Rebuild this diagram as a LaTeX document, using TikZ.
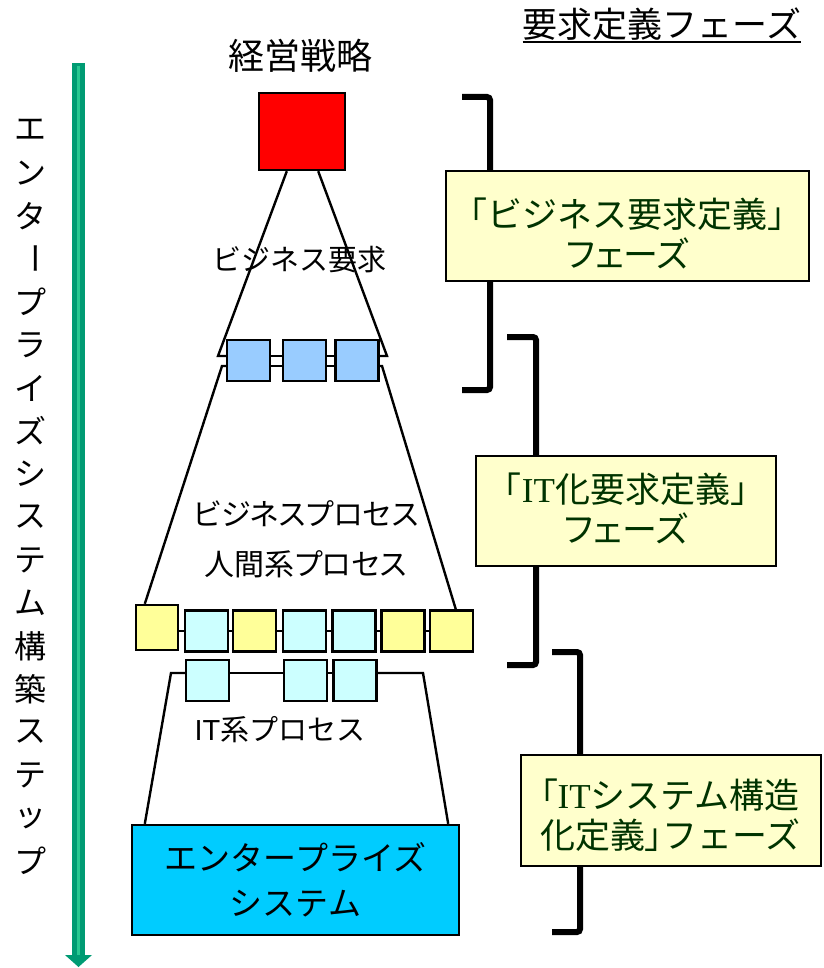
\documentclass[tikz,border=0pt]{standalone}
\usepackage{fontspec}
\usepackage{graphicx}
\setmainfont{Noto Sans CJK JP}
\newfontfamily\jpp[RawFeature=+palt]{Noto Sans CJK JP}
\newfontfamily\itserif{Liberation Serif}
\newfontfamily\itsans{Liberation Sans}
\usetikzlibrary{calc}
\definecolor{arrgreen}{RGB}{0,155,115}
\definecolor{arrlight}{RGB}{40,200,145}
\definecolor{phasefill}{HTML}{FFFFCC}
\definecolor{phasetext}{HTML}{003300}
\definecolor{bluebox}{HTML}{99CCFF}
\definecolor{yelbox}{HTML}{FFFF99}
\definecolor{cyanbox}{HTML}{CCFFFF}
\definecolor{entbox}{HTML}{00CCFF}
\begin{document}
\begin{tikzpicture}[x=1pt,y=-1pt,
  sq/.style={draw=black, line width=2.4pt, inner sep=0pt, minimum width=43pt, minimum height=41pt},
  conn/.style={line width=2.4pt, line join=miter},
  phasebox/.style={draw=black, line width=2pt, fill=phasefill, inner sep=0pt, minimum height=110pt},
  phasetxt/.style={text=phasetext, inner sep=0pt, align=center, font=\fontsize{35}{40}\selectfont},
  bracketline/.style={line width=6pt, rounded corners=3pt},
  lbl/.style={inner sep=0pt, text=black}]
\useasboundingbox (0,0) rectangle (823,968);

% ---------- green step arrow ----------
\coordinate (atop) at (78.5,63);
\coordinate (abot) at (78.5,955);
\coordinate (atip) at (78.5,967);
\draw[arrgreen, line width=13pt] (atop) -- (abot);
\draw[arrlight, line width=3.5pt] ($(atop)+(0,3)$) -- (abot);
\fill[arrgreen] ($(abot)+(-13.5,0)$) -- ($(abot)+(13.5,0)$) -- (atip) -- cycle;

% ---------- vertical text ----------
\foreach \c [count=\i from 0] in {エ,ン,タ,{\rotatebox{-90}{ー}},プ,ラ,イ,ズ,シ,ス,テ,ム,構,築,ス,テ,ッ,プ}
  \node[lbl, font=\fontsize{32}{32}\selectfont] (v\i) at (30,130+43*\i) {\c};

% ---------- title ----------
\node[lbl, font=\fontsize{35}{35}\selectfont] (title) at (662,24) {要求定義フェーズ};
\draw[line width=2pt] ($(title.south west)+(0,1)$) -- ($(title.south east)+(0,1)$);

% ---------- top ----------
\node[lbl, font=\fontsize{36}{36}\selectfont] (keiei) at (300,56) {経営戦略};
\node[sq, fill=red, minimum width=86pt, minimum height=77pt] (red) at (302,131.5) {};
\node[sq, fill=bluebox] (u1) at (248.5,360.5) {};
\node[sq, fill=bluebox] (u2) at (304.5,360.5) {};
\node[sq, fill=bluebox] (u3) at (357,360.5) {};
\node[lbl, font=\fontsize{29}{29}\selectfont] (bizreq) at (299,260) {ビジネス要求};

\coordinate (t1tl) at ($(red.south west)+(29,0)$);
\coordinate (t1tr) at ($(red.south east)+(-28,0)$);
\coordinate (t1bl) at (218,356);
\coordinate (t1br) at (387,356);
\draw[conn] (t1tl) -- (t1bl) -- (t1bl -| u1.west);
\draw[conn] (t1tr) -- (t1br) -- (t1br -| u3.east);
\draw[conn] (t1bl -| u1.east) -- (t1bl -| u2.west);
\draw[conn] (t1bl -| u2.east) -- (t1bl -| u3.west);

% ---------- business process row ----------
\node[sq, fill=yelbox, minimum width=42pt, minimum height=45pt] (b1) at (157,627.5) {};
\node[sq, fill=cyanbox] (b2) at (206.5,631) {};
\node[sq, fill=yelbox]  (b3) at (254.5,631) {};
\node[sq, fill=cyanbox] (b4) at (304.5,631) {};
\node[sq, fill=cyanbox] (b5) at (354,631) {};
\node[sq, fill=yelbox]  (b6) at (403,631) {};
\node[sq, fill=yelbox]  (b7) at (451.5,631) {};
\draw[conn] (b1.east |- b2.west) -- (b2.west);
\draw[conn] (b2.east) -- (b3.west);
\draw[conn] (b3.east) -- (b4.west);
\draw[conn] (b4.east) -- (b5.west);
\draw[conn] (b5.east) -- (b6.west);
\draw[conn] (b6.east) -- (b7.west);

\coordinate (t2tl) at (222,366);
\coordinate (t2tr) at (382,366);
\draw[conn] (t2tl -| u1.west) -- (t2tl) -- ($(b1.north west)+(10,0)$);
\draw[conn] (t2tr -| u3.east) -- (t2tr) -- ($(b7.north west)+(27,0)$);
\draw[conn] (t2tl -| u1.east) -- (t2tl -| u2.west);
\draw[conn] (t2tl -| u2.east) -- (t2tl -| u3.west);

\node[lbl, font=\jpp\fontsize{30}{30}\selectfont] (bizproc) at (306,514) {ビジネスプロセス};
\node[lbl, font=\jpp\fontsize{30}{30}\selectfont] (humproc) at (306,564) {人間系プロセス};

% ---------- IT process row ----------
\node[sq, fill=cyanbox] (c1) at (207.5,680.5) {};
\node[sq, fill=cyanbox] (c2) at (305.5,680.5) {};
\node[sq, fill=cyanbox] (c3) at (355,680.5) {};
\node[sq, fill=entbox, minimum width=327pt, minimum height=110pt, align=center,
      font=\fontsize{33}{45}\selectfont] (ent) at (295.5,880) {エンタープライズ\\システム};

\coordinate (t3tl) at (171,673);
\coordinate (t3tr) at (423,673);
\draw[conn] ($(ent.north west)+(14,0)$) -- (t3tl) -- (t3tl -| c1.west);
\draw[conn] (t3tl -| c1.east) -- (t3tl -| c2.west);
\draw[conn] (t3tl -| c2.east) -- (t3tl -| c3.west);
\draw[conn] (t3tl -| c3.east) -- (t3tr) -- ($(ent.north east)+(-12,0)$);

\node[lbl, font=\fontsize{29}{29}\selectfont] (itproc) at (280,730) {{\itsans IT}系プロセス};

% ---------- brackets ----------
\coordinate (k1a) at (462,97);  \coordinate (k1b) at (490,97);
\coordinate (k1c) at (490,390); \coordinate (k1d) at (462,390);
\draw[bracketline] (k1a) -- (k1b) -- (k1c) -- (k1d);
\coordinate (k2a) at (507,337); \coordinate (k2b) at (536,337);
\coordinate (k2c) at (536,665); \coordinate (k2d) at (507,665);
\draw[bracketline] (k2a) -- (k2b) -- (k2c) -- (k2d);
\coordinate (k3a) at (552,652); \coordinate (k3b) at (580,652);
\coordinate (k3c) at (580,932); \coordinate (k3d) at (552,932);
\draw[bracketline] (k3a) -- (k3b) -- (k3c) -- (k3d);

% ---------- phase boxes ----------
\node[phasebox, minimum width=363pt] (p1) at (627.5,226) {};
\node[phasetxt] (p1t) at ($(p1.center)+(0,7)$) {「ビジネス要求定義」\\{\jpp フェーズ}};
\node[phasebox, minimum width=300pt] (p2) at (626,511) {};
\node[phasetxt] (p2t) at ($(p2.center)+(0,-3)$) {「{\itserif IT}化要求定義」\\{\jpp フェーズ}};
\node[phasebox, minimum width=300pt, minimum height=111pt] (p3) at (671,810.5) {};
\node[phasetxt, align=left, anchor=west] (p3t) at (540,815) {{\jpp 「}{\itserif IT}システム構造\\化定義{\jpp 」}フェーズ};
\end{tikzpicture}
\end{document}
